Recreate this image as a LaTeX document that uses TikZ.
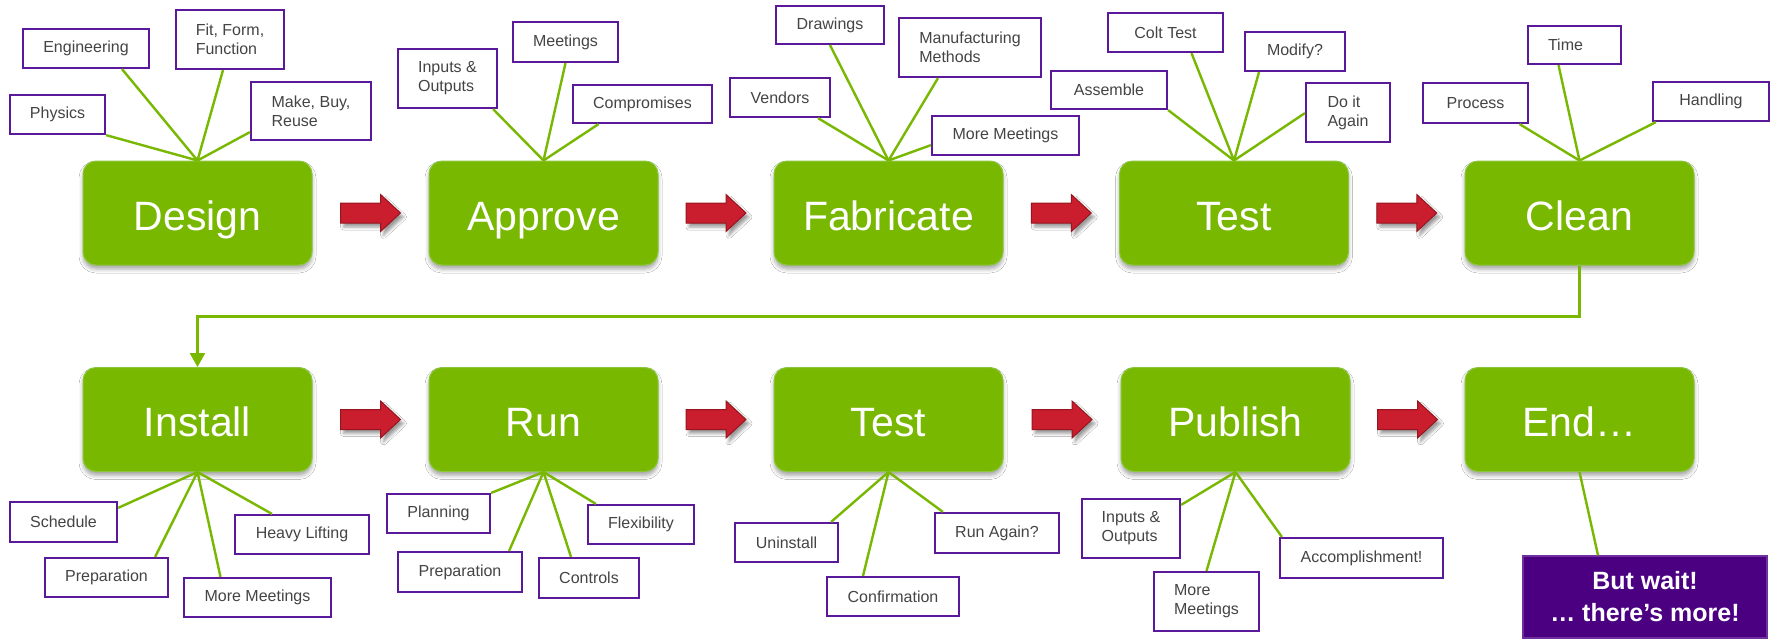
\documentclass[tikz,border=0pt]{standalone}
\usepackage{fontspec}
\setmainfont{Liberation Sans}
\usetikzlibrary{calc,arrows.meta,shadows.blur}

\definecolor{nvgreen}{RGB}{120,184,0}
\definecolor{nvedge}{RGB}{140,198,60}
\definecolor{lblpurple}{RGB}{90,24,154}
\definecolor{lbltext}{RGB}{68,68,68}
\definecolor{arrred}{RGB}{202,30,46}
\definecolor{arrdark}{RGB}{150,22,32}
\definecolor{waitfill}{RGB}{75,0,130}
\definecolor{waitedge}{RGB}{112,48,160}

\tikzset{
  x=1pt, y=-1pt,
  stage/.style={rounded corners=13pt, fill=nvgreen, draw=nvedge, line width=1pt,
    minimum width=229pt, minimum height=104pt, inner sep=0pt,
    text=white, font=\fontsize{41}{49}\selectfont, text height=34pt, text depth=0pt,
    blur shadow={shadow xshift=0pt, shadow yshift=-4pt, shadow blur radius=4pt, shadow opacity=35}},
  lbl/.style={draw=lblpurple, line width=2.2pt, fill=white, inner sep=0pt,
    text=lbltext, font=\fontsize{16}{19}\selectfont, align=left},
  leg/.style={draw=nvgreen, line width=2.4pt},
  link/.style={draw=nvgreen, line width=2.4pt, -{Triangle[width=15pt,length=14pt]}},
  waitbox/.style={fill=waitfill, draw=waitedge, line width=1.5pt, inner sep=0pt,
    text=white, font=\bfseries\fontsize{25}{32}\selectfont, align=center,
    minimum width=244pt, minimum height=82pt},
  redarr/.pic={
    \path[fill=arrred, draw=arrdark, line width=1pt,
      blur shadow={shadow xshift=3pt, shadow yshift=-4pt, shadow blur radius=3pt, shadow opacity=40}]
      (-30,-10) -- (10,-10) -- (10,-18.5) -- (30,0) -- (10,18.5) -- (10,10) -- (-30,10) -- cycle;
  }
}

\begin{document}
\begin{tikzpicture}
\useasboundingbox[fill=white] (0,0) rectangle (1774,641);

% ---- process stages ----
\node[stage] (design)  at (197.5,213) {Design};
\node[stage] (approve) at (543.5,213) {Approve};
\node[stage] (fab)     at (888.5,213) {Fabricate};
\node[stage] (test)    at (1234,213)  {Test};
\node[stage] (clean)   at (1579.5,213) {Clean};

\node[stage] (install) at (197.5,419.5) {Install};
\node[stage] (run)     at (543.5,419.5) {Run};
\node[stage] (retest)  at (888.5,419.5) {Test};
\node[stage] (publish) at (1235.5,419.5) {Publish};
\node[stage] (theend)  at (1579.5,419.5) {End…};

% ---- red step arrows between stages ----
\pic (a1) at ($(design.east)!0.5!(approve.west)$) {redarr};
\pic (a2) at ($(approve.east)!0.5!(fab.west)$) {redarr};
\pic (a3) at ($(fab.east)!0.5!(test.west)$) {redarr};
\pic (a4) at ($(test.east)!0.5!(clean.west)$) {redarr};
\pic (a5) at ($(install.east)!0.5!(run.west)$) {redarr};
\pic (a6) at ($(run.east)!0.5!(retest.west)$) {redarr};
\pic (a7) at ($(retest.east)!0.5!(publish.west)$) {redarr};
\pic (a8) at ($(publish.east)!0.5!(theend.west)$) {redarr};

% ---- wrap-around from Clean to Install ----
\draw[link] (clean.south) -- ++(0,51) -| (install.north);

% ---- Design ----
\node[lbl, minimum width=95pt,  minimum height=39pt] (phys) at (57.5,114.5) {Physics};
\node[lbl, minimum width=126pt, minimum height=39pt] (eng)  at (86,48.5)    {Engineering};
\node[lbl, minimum width=108pt, minimum height=59pt] (fff)  at (230,39.5)   {Fit, Form,\\Function};
\node[lbl, minimum width=120pt, minimum height=58pt] (mbr)  at (311,111)    {Make, Buy,\\Reuse};
\draw[leg] (design.north) -- (phys.south east);
\draw[leg] (design.north) -- ([xshift=36pt]eng.south);
\draw[leg] (design.north) -- ([xshift=-7pt]fff.south);
\draw[leg] (design.north) -- ([yshift=9pt]mbr.south west);

% ---- Approve ----
\node[lbl, minimum width=99pt,  minimum height=59pt] (aio)  at (447.5,78.5) {Inputs \&\\Outputs};
\node[lbl, minimum width=105pt, minimum height=40pt] (meet) at (565.5,42)   {Meetings};
\node[lbl, minimum width=139pt, minimum height=38pt] (comp) at (642.5,104)  {Compromises};
\draw[leg] (approve.north) -- ([xshift=-5pt]aio.south east);
\draw[leg] (approve.north) -- (meet.south);
\draw[leg] (approve.north) -- ([xshift=-44pt]comp.south);

% ---- Fabricate ----
\node[lbl, minimum width=100pt, minimum height=39pt] (vend) at (780,97.5)   {Vendors};
\node[lbl, minimum width=108pt, minimum height=38pt] (drw)  at (830,25)     {Drawings};
\node[lbl, minimum width=142pt, minimum height=59pt] (manu) at (970,47.5)   {Manufacturing\\Methods};
\node[lbl, minimum width=147pt, minimum height=39pt] (fmm)  at (1005.5,135.5) {More Meetings};
\draw[leg] (fab.north) -- ([xshift=38pt]vend.south);
\draw[leg] (fab.north) -- (drw.south);
\draw[leg] (fab.north) -- ([xshift=-32pt]manu.south);
\draw[leg] (fab.north) -- ([yshift=11pt]fmm.south west);

% ---- Test ----
\node[lbl, minimum width=116pt, minimum height=38pt] (asm)  at (1109,90)    {Assemble};
\node[lbl, minimum width=115pt, minimum height=39pt] (colt) at (1165.5,32.5) {Colt Test};
\node[lbl, minimum width=100pt, minimum height=39pt] (mod)  at (1295,51.5)  {Modify?};
\node[lbl, minimum width=84pt,  minimum height=59pt] (doit) at (1348,112.5) {Do it\\Again};
\draw[leg] (test.north) -- (asm.south east);
\draw[leg] (test.north) -- ([xshift=26pt]colt.south);
\draw[leg] (test.north) -- ([xshift=-36pt]mod.south);
\draw[leg] (test.north) -- ([yshift=30pt]doit.south west);

% ---- Clean ----
\node[lbl, minimum width=105pt, minimum height=40pt] (proc) at (1475.5,103) {Process};
\node[lbl, minimum width=93pt,  minimum height=38pt] (time) at (1574.5,45)  {Time\hspace{18pt}};
\node[lbl, minimum width=116pt, minimum height=39pt] (hand) at (1711,101.5) {Handling};
\draw[leg] (clean.north) -- ([xshift=44pt]proc.south);
\draw[leg] (clean.north) -- ([xshift=-16pt]time.south);
\draw[leg] (clean.north) -- ([xshift=4pt]hand.south west);

% ---- Install ----
\node[lbl, minimum width=107pt, minimum height=40pt] (sched) at (63.5,522)   {Schedule};
\node[lbl, minimum width=123pt, minimum height=39pt] (prepa) at (106.5,577.5) {Preparation};
\node[lbl, minimum width=147pt, minimum height=39pt] (imm)   at (257.5,597.5) {More Meetings};
\node[lbl, minimum width=134pt, minimum height=39pt] (heavy) at (302,534.5)   {Heavy Lifting};
\draw[leg] (install.south) -- ([yshift=-7pt]sched.north east);
\draw[leg] (install.south) -- ([xshift=-14pt]prepa.north east);
\draw[leg] (install.south) -- ([xshift=-37pt]imm.north);
\draw[leg] (install.south) -- ([xshift=-30pt]heavy.north);

% ---- Run ----
\node[lbl, minimum width=103pt, minimum height=39pt] (plan)  at (438.5,513.5) {Planning};
\node[lbl, minimum width=124pt, minimum height=40pt] (prepb) at (460,572)     {Preparation};
\node[lbl, minimum width=100pt, minimum height=40pt] (ctrl)  at (589,578)     {Controls};
\node[lbl, minimum width=106pt, minimum height=39pt] (flex)  at (641,524.5)   {Flexibility};
\draw[leg] (run.south) -- (plan.north east);
\draw[leg] (run.south) -- ([xshift=-14pt]prepb.north east);
\draw[leg] (run.south) -- ([xshift=-18pt]ctrl.north);
\draw[leg] (run.south) -- ([xshift=9pt]flex.north west);

% ---- second Test ----
\node[lbl, minimum width=103pt, minimum height=39pt] (unin) at (786.5,542.5) {Uninstall};
\node[lbl, minimum width=132pt, minimum height=39pt] (conf) at (893,596.5)   {Confirmation};
\node[lbl, minimum width=124pt, minimum height=40pt] (rag)  at (997,533)     {Run Again?};
\draw[leg] (retest.south) -- ([xshift=-8pt]unin.north east);
\draw[leg] (retest.south) -- ([xshift=-30pt]conf.north);
\draw[leg] (retest.south) -- ([xshift=9pt]rag.north west);

% ---- Publish ----
\node[lbl, minimum width=98pt,  minimum height=59pt] (pio) at (1131,528.5)   {Inputs \&\\Outputs};
\node[lbl, minimum width=105pt, minimum height=59pt] (pmm) at (1206.5,601.5) {More\\Meetings};
\node[lbl, minimum width=163pt, minimum height=40pt] (acc) at (1361.5,558)   {Accomplishment!};
\draw[leg] (publish.south) -- ([yshift=-7pt]pio.north east);
\draw[leg] (publish.south) -- (pmm.north);
\draw[leg] (publish.south) -- ([xshift=3pt]acc.north west);

% ---- End ----
\node[waitbox] (wait) at (1645,597) {But wait!\\… there’s more!};
\draw[leg] (theend.south) -- ([xshift=-47pt]wait.north);

\end{tikzpicture}
\end{document}
